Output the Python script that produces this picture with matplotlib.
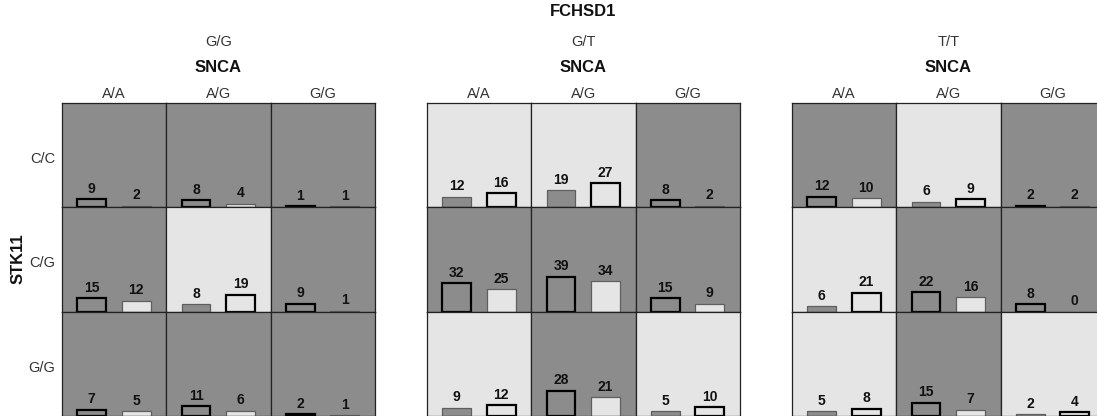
import matplotlib
matplotlib.use("Agg")
import matplotlib.pyplot as plt

plt.rcParams["font.family"] = ["Liberation Sans", "DejaVu Sans"]

# Genotype levels for each factor
fchsd1_levels = ["G/G", "G/T", "T/T"]
snca_levels = ["A/A", "A/G", "G/G"]
stk11_levels = ["C/C", "C/G", "G/G"]

# Case counts per FCHSD1 panel: rows = STK11, columns = SNCA
cases_gg = [[9, 8, 1], [15, 8, 9], [7, 11, 2]]
cases_gt = [[12, 19, 8], [32, 39, 15], [9, 28, 5]]
cases_tt = [[12, 6, 2], [6, 22, 8], [5, 15, 2]]

# Control counts per FCHSD1 panel
controls_gg = [[2, 4, 1], [12, 19, 1], [5, 6, 1]]
controls_gt = [[16, 27, 2], [25, 34, 9], [12, 21, 10]]
controls_tt = [[10, 9, 2], [21, 16, 0], [8, 7, 4]]

cases = [cases_gg, cases_gt, cases_tt]
controls = [controls_gg, controls_gt, controls_tt]

# Case/control ratio at or above this marks a high-risk cell
risk_threshold = 1.0

DARK = "#8c8c8c"
LIGHT = "#e5e5e5"
THIN_EDGE = "#5f5f5f"

W, H = 1097, 416
fig = plt.figure(figsize=(W / 100, H / 100), dpi=100)
fig.patch.set_facecolor("white")


def fpos(x, y):
    return x / W, 1 - y / H


panel_left = [62, 427, 792]
cell = 104.3
grid_top = 103
ymax = 3 * max(max(max(r) for r in p) for p in cases + controls)

for p, x0 in enumerate(panel_left):
    for r in range(3):
        for c in range(3):
            left = x0 + c * cell
            top = grid_top + r * cell
            ax = fig.add_axes([left / W, 1 - (top + cell) / H, cell / W, cell / H])
            n_case = cases[p][r][c]
            n_ctrl = controls[p][r][c]
            high = n_ctrl == 0 or n_case / n_ctrl >= risk_threshold
            ax.set_facecolor(DARK if high else LIGHT)
            vals = [n_case, n_ctrl]
            fills = [DARK, LIGHT]
            if high:
                edges, lws = ["black", THIN_EDGE], [1.6, 0.9]
            else:
                edges, lws = [THIN_EDGE, "black"], [0.9, 1.6]
            for i in range(2):
                if vals[i] > 0:
                    ax.bar(i, vals[i], width=0.65, color=fills[i],
                           edgecolor=edges[i], linewidth=lws[i], zorder=2)
                ax.annotate(str(vals[i]), (i, vals[i]), xytext=(0, 2.5),
                            textcoords="offset points", ha="center", va="bottom",
                            fontsize=10, fontweight="bold", color="#111111",
                            annotation_clip=False, zorder=3)
            ax.set_xlim(-0.67, 1.68)
            ax.set_ylim(0, ymax)
            ax.set_xticks([])
            ax.set_yticks([])
            for s in ax.spines.values():
                s.set_color("#222222")
                s.set_linewidth(0.9)

    cx = x0 + 1.5 * cell
    fig.text(*fpos(cx, 42), fchsd1_levels[p], ha="center", va="center",
             fontsize=10.5, color="#333333")
    fig.text(*fpos(cx, 68), "SNCA", ha="center", va="center",
             fontsize=12, fontweight="bold", color="#111111")
    for c, lab in enumerate(snca_levels):
        fig.text(*fpos(x0 + (c + 0.5) * cell, 94), lab, ha="center", va="center",
                 fontsize=10.5, color="#333333")

for r, lab in enumerate(stk11_levels):
    fig.text(*fpos(55, grid_top + (r + 0.5) * cell + 4), lab, ha="right",
             va="center", fontsize=10.5, color="#333333")

fig.text(*fpos(583, 12), "FCHSD1", ha="center", va="center",
         fontsize=12, fontweight="bold", color="#111111")
fig.text(*fpos(18, 259), "STK11", ha="center", va="center", rotation=90,
         fontsize=12, fontweight="bold", color="#111111")

fig.savefig("out.png", dpi=100)
